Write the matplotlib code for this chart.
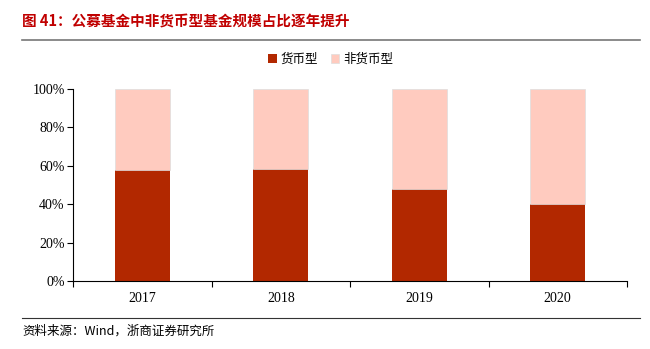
import matplotlib
matplotlib.use("Agg")
import matplotlib.pyplot as plt
import numpy as np

years = ["2017", "2018", "2019", "2020"]
money_fund = [0.578, 0.583, 0.481, 0.403]
non_money_fund = [1 - v for v in money_fund]

dark = "#B22800"
light = "#FFCBBF"

fig = plt.figure(figsize=(6.5, 3.49), dpi=100)
W, H = 650, 349
ax = fig.add_axes([73 / W, 1 - 281 / H, (627 - 73) / W, (281 - 89) / H])

x = np.arange(len(years))
ax.bar(x, money_fund, width=0.40, color=dark, label="货币型", zorder=2)
ax.bar(x, non_money_fund, width=0.40, bottom=money_fund, color=light,
       label="非货币型", edgecolor="#DDDDDD", linewidth=0.5, zorder=2)

ax.set_xlim(-0.5, len(years) - 0.5)
ax.set_ylim(0, 1)
ax.set_yticks(np.arange(0, 1.01, 0.2))
ax.set_yticklabels([f"{int(round(v*100))}%" for v in np.arange(0, 1.01, 0.2)],
                   family="Liberation Serif", fontsize=10)
ax.set_xticks(x)
ax.set_xticklabels(years, family="Liberation Serif", fontsize=10)
ax.set_xticks(np.arange(-0.5, len(years), 1), minor=True)
ax.tick_params(axis="x", which="major", length=0, pad=8)
ax.tick_params(axis="x", which="minor", length=4, direction="out", width=0.8)
ax.tick_params(axis="y", length=4, direction="out", width=0.8, pad=2)
for s in ["top", "right"]:
    ax.spines[s].set_visible(False)
ax.spines["left"].set_linewidth(0.8)
ax.spines["bottom"].set_linewidth(0.8)

leg = ax.legend(loc="lower center", bbox_to_anchor=(0.465, 1.06), ncol=2, frameon=False,
                prop={"family": ["Noto Sans CJK SC"], "size": 9},
                handlelength=0.7, handleheight=0.7, handletextpad=0.3, columnspacing=1.0)

fig.text(22 / W, 1 - 22 / H, "图 41：公募基金中非货币型基金规模占比逐年提升",
         color="#C00000", fontsize=10.5, fontweight="bold",
         family=["Noto Sans CJK SC", "DejaVu Sans"], va="center", ha="left")
fig.add_artist(plt.Line2D([22 / W, 640 / W], [1 - 40 / H, 1 - 40 / H],
                          color="#777777", linewidth=1.2))
fig.add_artist(plt.Line2D([22 / W, 640 / W], [1 - 318 / H, 1 - 318 / H],
                          color="#333333", linewidth=0.8))
fig.text(22 / W, 1 - 331 / H, "资料来源：Wind，浙商证券研究所",
         fontsize=9, family=["Noto Sans CJK SC", "DejaVu Sans"], va="center", ha="left")

fig.savefig("out.png", dpi=100)
